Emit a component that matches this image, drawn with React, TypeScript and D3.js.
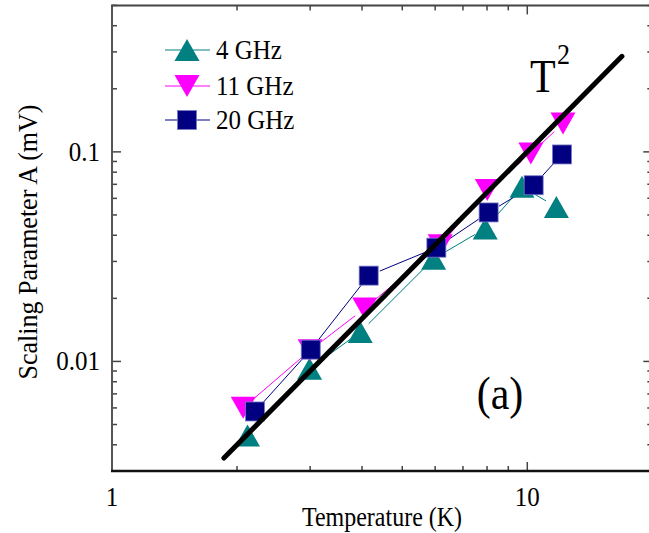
import React from "react";
import * as d3 from "d3";

const series4T = [2.12, 2.99, 3.96, 5.95, 7.92, 9.71, 11.75];
const series4A = [0.00443, 0.00923, 0.0138, 0.0309, 0.0431, 0.0681, 0.0546];
const series11T = [2.07, 3.0, 4.06, 6.17, 8.01, 10.2, 12.19];
const series11A = [0.00601, 0.0113, 0.0179, 0.0358, 0.0658, 0.0982, 0.1367];
const series20T = [2.21, 3.01, 4.15, 6.04, 8.07, 10.36, 12.12];
const series20A = [0.00577, 0.01138, 0.02567, 0.0349, 0.0514, 0.0693, 0.0972];
const fitT = [1.86, 16.9];
const fitCoef = 0.001;
const legendLabels = ["4 GHz", "11 GHz", "20 GHz"];
const xTickLabels = ["1", "10"];
const yTickLabels = ["0.01", "0.1"];

const FONT = "Liberation Serif, Times New Roman, Times, DejaVu Serif, serif";
const SY = 1.1;

function Txt({ x, y, size, anchor, children }: { x: number; y: number; size: number; anchor?: string; children: React.ReactNode }) {
  return (
    <text
      transform={`translate(${x},${y}) scale(1,${SY})`}
      textAnchor={anchor || "start"}
      style={{ fontFamily: FONT, fontSize: size + "px" }}
    >
      {children}
    </text>
  );
}

type Shape = "up" | "down" | "square";
const seriesDefs: { T: number[]; A: number[]; color: string; shape: Shape; label: string }[] = [
  { T: series4T, A: series4A, color: "#008080", shape: "up", label: legendLabels[0] },
  { T: series11T, A: series11A, color: "#FF00FF", shape: "down", label: legendLabels[1] },
  { T: series20T, A: series20A, color: "#000080", shape: "square", label: legendLabels[2] },
];

function Marker({ x, y, shape, color }: { x: number; y: number; shape: Shape; color: string }) {
  if (shape === "square") {
    const s = 19;
    return <rect x={x - s / 2} y={y - s / 2} width={s} height={s} fill={color} stroke="#7a7ac8" strokeWidth={0.8} />;
  }
  const w = 25, h = 22;
  if (shape === "up") {
    return <path d={`M${x},${y - h / 2} L${x + w / 2},${y + h / 2} L${x - w / 2},${y + h / 2} Z`} fill={color} />;
  }
  return <path d={`M${x - w / 2},${y - h / 2} L${x + w / 2},${y - h / 2} L${x},${y + h / 2} Z`} fill={color} />;
}

export default function App() {
  const W = 649, H = 533;
  const x = d3.scaleLog().domain([1, 20]).range([112, 652.3]);
  const y = d3.scaleLog().domain([0.003, 0.5]).range([471, 5.4]);
  const [x0, x1] = x.range();
  const [yb, yt] = y.range();

  const xMajor = [1, 10];
  const xMinor = [2, 3, 4, 5, 6, 7, 8, 9, 20];
  const yMajor = [0.01, 0.1];
  const yMinor = [0.003, 0.004, 0.005, 0.006, 0.007, 0.008, 0.009, 0.02, 0.03, 0.04, 0.05, 0.06, 0.07, 0.08, 0.09, 0.2, 0.3, 0.4, 0.5];
  const axisColor = "#444";
  const maj = 9, min = 5;

  const gap = 12;
  const segs = (T: number[], A: number[]) => {
    const out: string[] = [];
    for (let i = 0; i < T.length - 1; i++) {
      const ax = x(T[i]), ay = y(A[i]), bx = x(T[i + 1]), by = y(A[i + 1]);
      const dx = bx - ax, dy = by - ay;
      const L = Math.hypot(dx, dy);
      if (L <= 2 * gap) continue;
      const ux = dx / L, uy = dy / L;
      out.push(`M${ax + ux * gap},${ay + uy * gap} L${bx - ux * gap},${by - uy * gap}`);
    }
    return out.join(" ");
  };

  const fitLine = d3.line<number>().x((t) => x(t)).y((t) => y(fitCoef * t * t));

  return (
    <svg width={W} height={H} style={{ position: "absolute", left: 0, top: 0, background: "#fff" }}>
      <rect x={0} y={0} width={W} height={H} fill="#fff" />
      <g stroke={axisColor} strokeWidth={1.5}>
        {xMajor.map((v) => (
          <g key={"xm" + v}>
            <line x1={x(v)} x2={x(v)} y1={yb} y2={yb - maj} />
            <line x1={x(v)} x2={x(v)} y1={yt} y2={yt + maj} />
          </g>
        ))}
        {xMinor.map((v) => (
          <g key={"xn" + v}>
            <line x1={x(v)} x2={x(v)} y1={yb} y2={yb - min} />
            <line x1={x(v)} x2={x(v)} y1={yt} y2={yt + min} />
          </g>
        ))}
        {yMajor.map((v) => (
          <g key={"ym" + v}>
            <line x1={x0} x2={x0 + maj} y1={y(v)} y2={y(v)} />
            <line x1={x1} x2={x1 - maj} y1={y(v)} y2={y(v)} />
          </g>
        ))}
        {yMinor.map((v) => (
          <g key={"yn" + v}>
            <line x1={x0} x2={x0 + min} y1={y(v)} y2={y(v)} />
            <line x1={x1} x2={x1 - min} y1={y(v)} y2={y(v)} />
          </g>
        ))}
      </g>
      <line x1={x0} x2={x0} y1={yt} y2={yb} stroke="#555" strokeWidth={2} />
      <line x1={x1} x2={x1} y1={yt} y2={yb} stroke="#555" strokeWidth={2} />
      <line x1={x0 - 1} x2={x1} y1={yt} y2={yt} stroke="#444" strokeWidth={2} />
      <line x1={x0 - 1} x2={x1} y1={yb} y2={yb} stroke="#111" strokeWidth={2.5} />

      {xMajor.map((v, i) => (
        <Txt key={"xl" + v} x={x(v)} y={yb + 35} size={25} anchor="middle">{xTickLabels[i]}</Txt>
      ))}
      {yMajor.map((v, i) => (
        <Txt key={"yl" + v} x={x0 - 12} y={y(v) + 9} size={25} anchor="end">{yTickLabels[i]}</Txt>
      ))}
      <Txt x={382} y={526} size={24} anchor="middle">Temperature (K)</Txt>
      <text
        transform={`translate(37,242) rotate(-90) scale(1,1.05)`}
        textAnchor="middle"
        style={{ fontFamily: FONT, fontSize: "26px" }}
      >
        Scaling Parameter A (mV)
      </text>

      {seriesDefs.map((s) => (
        <path key={"l" + s.label} d={segs(s.T, s.A)} stroke={s.color} strokeWidth={1} fill="none" />
      ))}
      {seriesDefs.map((s) => (
        <g key={"m" + s.label}>
          {s.T.map((t, i) => (
            <Marker key={i} x={x(t)} y={y(s.A[i])} shape={s.shape} color={s.color} />
          ))}
        </g>
      ))}
      <path d={fitLine(fitT) || ""} stroke="#000" strokeWidth={5} strokeLinecap="round" fill="none" />

      {seriesDefs.map((s, i) => {
        const ly = [50, 86, 120][i];
        return (
          <g key={"lg" + s.label}>
            <line x1={165} x2={210} y1={ly} y2={ly} stroke={s.color} strokeWidth={1} />
            <Marker x={187} y={ly} shape={s.shape} color={s.color} />
            <Txt x={216} y={ly + 9} size={25}>{s.label}</Txt>
          </g>
        );
      })}

      <Txt x={530} y={92} size={42}>T</Txt>
      <Txt x={557} y={64} size={26}>2</Txt>
      <Txt x={500} y={409} size={42} anchor="middle">(a)</Txt>
    </svg>
  );
}
